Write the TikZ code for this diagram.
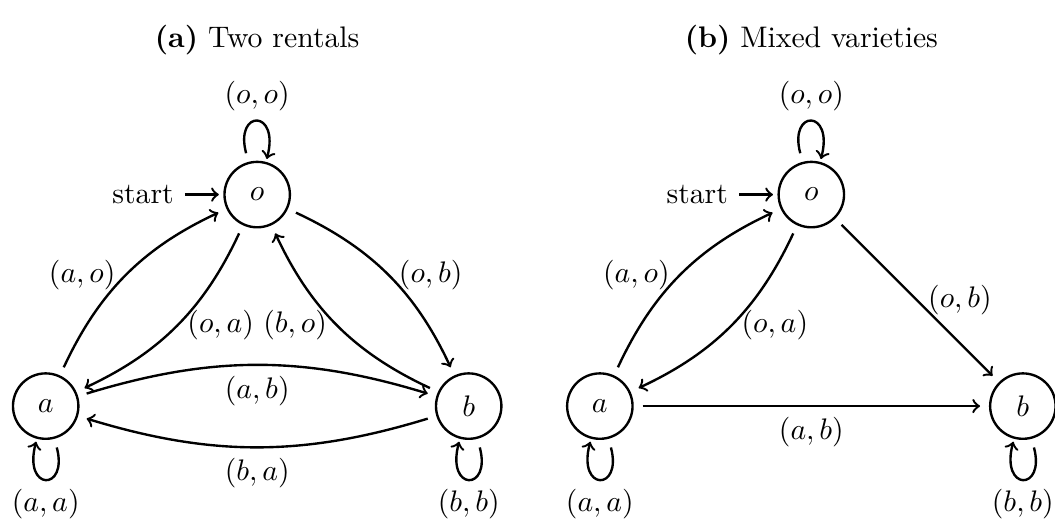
\documentclass[tikz,border=0pt]{standalone}
\usepackage{amssymb,amsmath}
\usepackage{tikz}
\usetikzlibrary{automata}

\begin{document}
\begin{tikzpicture}[
            >= to, % arrow head style
            shorten >= 3pt, % don't touch arrow head to node
            shorten <= 3pt,
            thick % line style
        ]

        \tikzstyle{every state}=[
            draw = black,
            thick,
            fill = white,
            minimum size = 22pt,
            inner sep = 0pt
        ]
        \tikzstyle{every loop}=[->, shorten >= 1pt, shorten <= 3pt]
        \tikzstyle{every initial by arrow}=[shorten >= 1.5pt, shorten <= 0pt]
\useasboundingbox (0,0) rectangle (12.47,-6.18);

% (a) two rentals
\node[] (capA) at (3.04,-0.47) {\textbf{(a)} Two rentals};
\node[state,initial] (o1) at (3.04,-2.30) {$o$};
\node[state] (a1) at (0.54,-4.80) {$a$};
\node[state] (b1) at (5.54,-4.80) {$b$};

 \path [->] (o1) edge [loop above] node[above] {$(o,o)$} ();
 \path [->] (a1) edge [loop below] node[below] {$(a,a)$} ();
 \path [->] (b1) edge [loop below] node[below] {$(b,b)$} ();
 \path [->] (a1) edge [bend left=20] node[left] {$(a,o)$} (o1);
 \path [->] (o1) edge [bend left=20] node[right] {$(o,a)$} (a1);
 \path [->] (o1) edge [bend left=20] node[right] {$(o,b)$} (b1);
 \path [->] (b1) edge [bend left=20] node[left] {$(b,o)$} (o1);
 \path [->] (a1) edge [bend left=17] node[below] {$(a,b)$} (b1);
 \path [->] (b1) edge [bend left=17] node[below] {$(b,a)$} (a1);

% (b) mixed varieties
\node[] (capB) at (9.59,-0.47) {\textbf{(b)} Mixed varieties};
\node[state,initial] (o2) at (9.59,-2.30) {$o$};
\node[state] (a2) at (7.09,-4.80) {$a$};
\node[state] (b2) at (12.09,-4.80) {$b$};

 \path [->] (o2) edge [loop above] node[above] {$(o,o)$} ();
 \path [->] (a2) edge [loop below] node[below] {$(a,a)$} ();
 \path [->] (b2) edge [loop below] node[below] {$(b,b)$} ();
 \path [->] (a2) edge [bend left=20] node[left] {$(a,o)$} (o2);
 \path [->] (o2) edge [bend left=20] node[right] {$(o,a)$} (a2);
 \path [->] (o2) edge node[right] {$(o,b)$} (b2);
 \path [->] (a2) edge node[below] {$(a,b)$} (b2);
\end{tikzpicture}
\end{document}
